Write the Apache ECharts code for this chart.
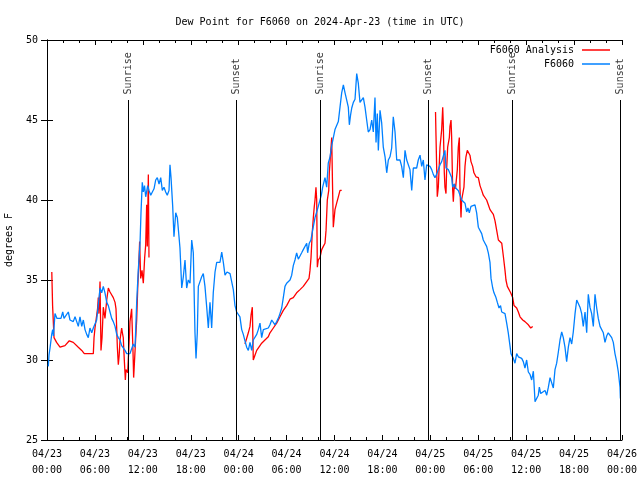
<!DOCTYPE html>
<html><head><meta charset="utf-8">
<script src="https://cdn.jsdelivr.net/npm/echarts@6/dist/echarts.min.js"></script>
<style>html,body{margin:0;padding:0;background:#fff}#c{width:640px;height:480px}</style>
</head><body><div id="c"></div>
<script>
const titleText = 'Dew Point for F6060 on 2024-Apr-23 (time in UTC)';
const yAxisName = 'degrees F';
const xTickLabels = ['04/23\n00:00','04/23\n06:00','04/23\n12:00','04/23\n18:00','04/24\n00:00','04/24\n06:00','04/24\n12:00','04/24\n18:00','04/25\n00:00','04/25\n06:00','04/25\n12:00','04/25\n18:00','04/26\n00:00'];
// hours since 2024-04-23 00:00 UTC
const obsHours = [0.16,0.25,0.38,0.59,0.71,0.81,1.0,1.25,1.75,1.97,2.13,2.38,2.67,2.88,3.29,3.51,3.72,3.92,4.13,4.35,4.55,4.76,4.97,5.17,5.38,5.6,5.8,6.01,6.22,6.42,6.64,6.85,7.05,7.26,7.48,7.68,7.89,8.1,8.3,8.52,8.73,8.93,9.14,9.35,9.55,9.77,9.98,10.18,10.39,10.81,11.02,11.11,11.23,11.43,11.65,11.77,11.93,12.06,12.21,12.36,12.61,12.77,12.99,13.19,13.4,13.61,13.81,14.03,14.24,14.44,14.65,14.86,15.06,15.28,15.4,15.53,15.74,15.9,16.12,16.32,16.53,16.65,16.87,17.07,17.28,17.49,17.69,17.91,18.12,18.32,18.53,18.66,18.82,18.95,19.16,19.37,19.57,19.78,20.0,20.2,20.41,20.62,20.82,21.04,21.25,21.66,21.88,22.08,22.29,22.54,22.92,23.13,23.33,23.54,23.75,23.96,24.16,24.38,24.58,24.79,25.0,25.21,25.42,25.63,25.83,26.04,26.26,26.46,26.67,26.88,27.09,27.29,27.71,27.92,28.14,28.34,28.55,28.76,28.96,29.17,29.39,29.59,29.8,30.01,30.43,30.64,30.84,31.05,31.26,31.47,31.68,31.89,32.09,32.31,32.52,32.64,32.84,33.05,33.26,33.56,33.77,33.97,34.18,34.35,34.52,34.81,35.02,35.22,35.44,35.65,35.85,36.06,36.27,36.48,36.69,36.9,37.11,37.32,37.53,37.73,37.86,38.01,38.16,38.36,38.57,38.78,38.98,39.19,39.4,39.61,39.82,40.03,40.23,40.45,40.66,40.86,41.07,41.2,41.36,41.49,41.7,41.91,42.11,42.33,42.54,42.74,42.95,43.16,43.36,43.58,43.79,43.99,44.2,44.41,44.62,44.83,45.04,45.25,45.45,45.67,45.87,46.08,46.29,46.49,46.71,46.92,47.12,47.33,47.54,47.74,47.96,48.17,48.37,48.58,48.79,49.0,49.21,49.42,49.62,49.83,49.96,50.25,50.46,50.67,50.8,51.0,51.17,51.33,51.5,51.71,51.92,52.12,52.34,52.55,52.71,52.88,53.09,53.34,53.59,53.8,54.01,54.22,54.43,54.63,54.84,55.05,55.26,55.47,55.6,55.81,55.97,56.22,56.39,56.6,56.79,56.94,57.14,57.35,57.56,57.76,57.97,58.1,58.39,58.6,58.81,59.02,59.23,59.44,59.64,59.85,60.06,60.27,60.48,60.69,60.9,61.11,61.32,61.52,61.65,61.82,62.05,62.36,62.57,62.78,62.99,63.2,63.4,63.61,63.82,64.03,64.24,64.45,64.65,64.86,65.07,65.28,65.49,65.7,65.9,66.12,66.33,66.53,66.74,66.95,67.15,67.37,67.58,67.78,67.99,68.2,68.41,68.62,68.83,69.03,69.25,69.46,69.66,69.87,70.08,70.28,70.5,70.71,70.91,71.12,71.33,71.54,71.69,71.75,71.8];
const obsDew = [29.6,30.3,30.75,31.6,31.9,31.5,32.9,32.6,32.6,33.0,32.6,32.6,33.0,32.5,32.4,32.7,32.4,32.1,32.7,32.1,32.5,31.9,31.6,31.4,32.0,31.7,32.0,31.9,32.5,33.4,34.5,34.2,34.6,34.2,33.6,33.4,33.0,32.6,32.4,32.1,31.6,31.4,31.25,30.9,30.9,30.6,30.4,30.4,30.4,31.0,30.8,31.9,33.6,35.6,37.3,39.2,41.1,40.5,40.9,40.2,40.9,40.6,40.3,40.5,40.7,41.25,41.4,41.0,41.4,40.6,40.8,40.5,40.3,40.6,42.2,41.4,39.6,37.7,39.2,38.9,37.7,37.0,34.5,35.2,36.25,34.5,35.0,34.8,37.5,36.7,31.7,30.1,31.7,34.6,34.6,35.2,35.4,34.6,33.3,32.0,33.6,32.0,34.2,35.5,36.1,36.1,36.75,36.1,35.3,35.5,35.4,35.3,34.4,33.4,33.0,32.9,32.7,31.9,31.6,31.2,30.8,30.6,31.1,30.6,31.25,31.25,31.6,31.9,32.3,31.4,31.9,31.9,32.0,32.2,32.5,32.5,32.2,32.4,32.6,32.9,33.25,33.9,34.6,34.8,35.0,35.3,35.9,36.25,36.7,36.3,36.4,36.7,36.9,37.0,37.3,36.7,37.3,37.5,38.1,38.9,39.25,39.6,39.6,40.3,40.8,41.4,40.8,42.3,42.7,43.4,43.5,44.4,44.4,44.9,45.8,46.7,47.2,46.7,46.6,45.8,44.7,45.3,45.75,46.1,46.3,47.9,47.3,46.1,46.1,46.4,45.8,45.0,44.25,44.4,45.0,44.25,46.4,43.6,45.4,43.1,45.6,44.8,43.3,42.7,41.7,42.5,42.7,43.25,45.2,44.25,42.5,42.6,42.5,42.1,41.4,43.1,42.5,42.5,41.9,40.6,42.0,42.0,42.0,42.5,42.8,42.1,42.5,41.25,42.2,42.2,42.1,41.9,41.6,41.4,41.6,41.9,42.2,42.4,42.5,43.1,42.0,41.9,41.9,41.4,40.8,41.0,40.75,40.8,40.6,40.6,40.0,40.1,39.8,39.25,39.5,39.2,39.6,39.5,39.7,39.2,38.3,38.3,37.9,37.5,37.3,37.1,36.7,36.1,35.1,34.5,34.2,33.9,33.6,33.25,33.4,33.0,33.1,32.9,32.3,31.7,30.9,30.4,30.1,29.8,30.4,30.2,30.1,30.1,29.9,29.5,30.0,29.25,29.1,28.75,29.3,27.4,27.4,27.8,28.3,27.9,27.9,28.1,27.8,28.3,28.9,29.0,28.25,29.4,29.8,30.5,31.25,31.75,31.4,30.8,29.9,30.8,31.4,31.0,31.75,32.9,33.75,33.75,33.3,32.9,32.1,33.0,31.7,34.1,33.3,32.9,32.1,34.1,33.25,32.6,32.1,32.0,31.7,31.1,31.5,31.7,31.6,31.4,31.1,30.4,29.9,29.25,29.3,28.3,27.6];
// analysis: null marks a gap
const anaHours = [0.6,0.7,0.88,1.2,1.63,1.84,2.25,2.79,3.29,3.92,4.35,4.67,5.8,5.89,6.01,6.34,6.42,6.5,6.64,6.76,6.89,7.05,7.26,7.48,7.68,7.89,8.3,8.52,8.64,8.81,8.93,9.04,9.14,9.35,9.44,9.55,9.68,9.81,9.89,10.1,10.31,10.39,10.6,10.77,10.85,11.1,11.23,11.36,11.48,11.6,11.73,11.9,12.06,12.23,12.36,12.48,12.56,12.69,12.77,null,
  24.79,25.21,25.42,25.55,25.71,25.83,26.04,26.26,26.67,26.88,27.29,27.71,27.92,28.34,28.76,29.17,29.59,30.01,30.43,30.84,31.26,31.68,32.09,32.52,32.81,32.93,33.06,33.22,33.35,33.47,33.56,33.68,33.77,33.85,33.97,34.18,34.4,34.6,34.81,34.94,35.1,35.28,35.35,35.65,35.75,35.85,36.06,36.27,36.48,36.69,36.9,null,
  48.65,48.71,48.87,49.0,49.21,49.42,49.55,49.62,49.75,49.83,49.96,50.04,50.17,50.38,50.46,50.59,50.67,50.8,50.88,51.0,51.15,51.38,51.5,51.63,51.71,51.84,51.92,52.05,52.21,52.34,52.46,52.63,52.78,52.96,53.09,53.3,53.46,53.72,54.01,54.22,54.43,54.63,55.05,55.26,55.47,55.89,56.1,56.31,56.52,56.94,57.14,57.35,57.47,57.64,57.89,58.06,58.31,58.48,58.81,59.02,59.23,59.57,59.85,60.27,60.57,60.82];
const anaDew = [35.5,33.4,31.4,31.1,30.8,30.75,30.9,31.2,31.1,30.8,30.6,30.4,30.4,31.4,32.0,33.25,33.9,32.9,34.9,30.6,31.4,33.3,32.6,33.75,34.5,34.25,33.9,33.6,33.2,30.8,29.7,30.3,31.25,32.0,31.7,31.4,30.0,28.75,29.4,29.2,31.4,32.4,33.2,30.5,28.9,31.3,32.5,34.5,35.8,37.4,35.1,35.6,34.8,36.4,37.2,39.7,37.1,41.6,36.4,null,
  31.0,31.7,32.1,32.8,33.3,30.0,30.3,30.6,30.9,31.05,31.25,31.45,31.7,32.0,32.3,32.7,33.1,33.4,33.8,33.9,34.2,34.4,34.6,34.9,35.1,35.6,36.4,38.0,38.9,39.6,40.0,40.8,40.0,35.8,36.25,36.4,36.9,37.1,37.3,38.1,40.0,40.6,41.7,43.9,41.0,38.3,39.4,39.8,40.2,40.6,40.6,null,
  45.5,44.0,40.2,40.8,43.3,44.4,45.8,44.8,41.7,40.8,40.4,41.9,43.3,43.9,44.6,45.0,43.9,40.6,39.9,41.0,40.7,41.9,43.3,43.9,40.8,38.9,40.0,40.1,40.8,42.1,42.7,43.1,43.0,42.8,42.4,42.1,41.7,41.45,41.4,40.9,40.6,40.3,40.0,39.7,39.4,39.1,38.7,38.1,37.5,37.3,36.5,35.6,35.0,34.6,34.5,34.2,33.9,33.4,33.25,33.0,32.7,32.5,32.4,32.2,32.0,32.1];
const sunHours = [10.14, 23.67, 34.18, 47.71, 58.23, 71.75];
const sunNames = ['Sunrise','Sunset','Sunrise','Sunset','Sunrise','Sunset'];
const yMin = 25, yMax = 50, yStep = 5;
const sunLineTop = 46.25, sunLabelBase = 46.6;

const FONT = 'DejaVu Sans Mono';
const chart = echarts.init(document.getElementById('c'), null, {renderer: 'canvas'});

const obsData = obsHours.map((h, i) => [h, obsDew[i]]);
const anaData = anaHours.map((h, i) => h === null ? [NaN, '-'] : [h, anaDew[i]]);
const sunLines = sunHours.map(h => [{coord: [h, yMin]}, {coord: [h, sunLineTop]}]);
const sunLabels = sunHours.map((h, i) => [h, sunLabelBase, sunNames[i]]);

const xCommon = {
  type: 'value', min: 0, max: 72, interval: 6,
  axisLine: {show: true, lineStyle: {color: '#000', width: 1}},
  axisTick: {show: true, inside: true, length: 5, lineStyle: {color: '#000'}},
  minorTick: {show: true, splitNumber: 3, length: 3, lineStyle: {color: '#000'}},
  splitLine: {show: false}, minorSplitLine: {show: false}
};
const yCommon = {
  type: 'value', min: yMin, max: yMax, interval: yStep,
  axisLine: {show: true, lineStyle: {color: '#000', width: 1}},
  axisTick: {show: true, inside: true, length: 6, lineStyle: {color: '#000'}},
  splitLine: {show: false}
};

chart.setOption({
  animation: false,
  backgroundColor: '#fff',
  textStyle: {fontFamily: FONT},
  title: {
    text: titleText, left: 'center', top: 12,
    textStyle: {fontFamily: FONT, fontSize: 10, fontWeight: 'normal', color: '#000'}
  },
  legend: {
    data: ['F6060 Analysis', 'F6060'],
    orient: 'vertical', right: 30, top: 44, align: 'right',
    icon: 'rect', itemWidth: 28, itemHeight: 1.5, itemGap: 2,
    textStyle: {fontFamily: FONT, fontSize: 10, color: '#000', padding: [0, 3, 0, 0], lineHeight: 12},
    padding: 0
  },
  grid: {left: 47, right: 18, top: 40, bottom: 40, containLabel: false, outerBoundsMode: 'none'},
  xAxis: [
    Object.assign({}, xCommon, {
      position: 'bottom',
      axisLabel: {
        show: true, color: '#000', fontFamily: FONT, fontSize: 10, lineHeight: 16, margin: 6,
        formatter: v => xTickLabels[Math.round(v / 6)]
      }
    }),
    Object.assign({}, xCommon, {position: 'top', axisLabel: {show: false}})
  ],
  yAxis: [
    Object.assign({}, yCommon, {
      position: 'left',
      name: yAxisName, nameLocation: 'middle', nameGap: 33, nameRotate: 90,
      nameTextStyle: {fontFamily: FONT, fontSize: 10, color: '#000'},
      axisLabel: {show: true, color: '#000', fontFamily: FONT, fontSize: 10, margin: 9}
    }),
    Object.assign({}, yCommon, {position: 'right', axisLabel: {show: false}})
  ],
  series: [
    {
      name: 'F6060 Analysis', type: 'line', data: anaData, symbol: 'none',
      connectNulls: false, color: '#ff0000',
      lineStyle: {color: '#ff0000', width: 1.3}, z: 2
    },
    {
      name: 'F6060', type: 'line', data: obsData, symbol: 'none',
      color: '#0080ff',
      lineStyle: {color: '#0080ff', width: 1.3}, z: 3
    },
    {
      name: 'sun', type: 'scatter', data: sunLabels, symbolSize: 0, silent: true, z: 4,
      label: {
        show: true, position: [0, 0], rotate: 90, align: 'left', verticalAlign: 'middle',
        formatter: p => p.data[2], color: '#000', fontFamily: FONT, fontSize: 10
      },
      markLine: {
        silent: true, symbol: ['none', 'none'],
        label: {show: false},
        lineStyle: {color: '#000', width: 1, type: 'solid'},
        data: sunLines
      }
    }
  ]
});
</script>
</body></html>
